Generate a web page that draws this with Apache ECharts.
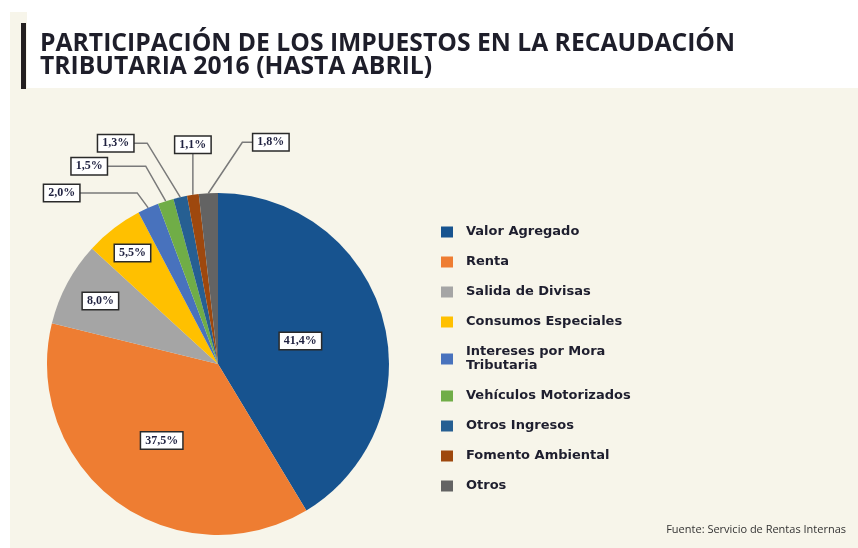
<!DOCTYPE html>
<html>
<head>
<meta charset="utf-8">
<script src="https://cdn.jsdelivr.net/npm/echarts@6/dist/echarts.min.js"></script>
<style>
  html, body { margin: 0; padding: 0; background: #fff; }
  #chart { width: 858px; height: 548px; }
</style>
</head>
<body>
<div id="chart"></div>
<script>
// datos
const categories = [
  'Valor Agregado', 'Renta', 'Salida de Divisas', 'Consumos Especiales',
  'Intereses por Mora\nTributaria', 'Vehículos Motorizados', 'Otros Ingresos',
  'Fomento Ambiental', 'Otros'
]
const values = [41.4, 37.5, 8.0, 5.5, 2.0, 1.5, 1.3, 1.1, 1.8]
const colors = ['#17538f', '#ee7d32', '#a5a5a5', '#ffc000', '#4872bd', '#70ad47', '#265f92', '#9e480e', '#636363']

// geometria del pie
const CX = 218, CY = 364, R = 171
// posicion radial de etiquetas internas (fraccion del radio)
const innerPos = { 0: 0.5, 1: 0.556, 2: 0.78, 3: 0.82 }
// etiquetas externas: [dx codo, dy codo, brazo horizontal]
const outerPos = {
  4: [-11, -15, -58],
  5: [-20, -35, -39],
  6: [-33, -54, -14],
  7: [0, -42, 0],
  8: [34, -51, 11]
}

const labelBox = {
  backgroundColor: '#fff',
  borderColor: '#2a2a2a',
  borderWidth: 1.5,
  padding: [2, 4, 2, 4],
  fontFamily: 'Liberation Serif',
  fontWeight: 'bold',
  fontSize: 12,
  color: '#1f2140',
  formatter: p => p.value.toFixed(1).replace('.', ',') + '%'
}

const chart = echarts.init(document.getElementById('chart'))

chart.setOption({
  backgroundColor: '#fff',
  animation: false,
  graphic: [
    { type: 'rect', z: 0, shape: { x: 10, y: 12, width: 848, height: 536 }, style: { fill: '#f7f5ea' } },
    { type: 'rect', z: 0, shape: { x: 27, y: 0, width: 831, height: 88 }, style: { fill: '#fff' } },
    { type: 'rect', z: 0, shape: { x: 21, y: 23, width: 5, height: 66 }, style: { fill: '#231f20' } }
  ],
  title: [{
    text: 'PARTICIPACIÓN DE LOS IMPUESTOS EN LA RECAUDACIÓN\nTRIBUTARIA 2016 (HASTA ABRIL)',
    left: 40,
    top: 32,
    padding: 0,
    textStyle: {
      fontFamily: 'Open Sans',
      fontWeight: 'bold',
      fontSize: 24.7,
      lineHeight: 23,
      color: '#1e1e2a'
    }
  }, {
    text: 'Fuente: Servicio de Rentas Internas',
    right: 12,
    top: 524,
    padding: 0,
    textStyle: {
      fontFamily: 'Open Sans',
      fontWeight: 'normal',
      fontSize: 11,
      color: '#333'
    }
  }],
  legend: {
    orient: 'vertical',
    left: 441,
    top: 225,
    padding: 0,
    itemWidth: 12,
    itemHeight: 11,
    itemGap: 16,
    icon: 'rect',
    selectedMode: false,
    textStyle: {
      fontFamily: 'DejaVu Sans',
      fontWeight: 'bold',
      fontSize: 13,
      lineHeight: 14,
      color: '#1e1e2e',
      padding: [0, 0, 0, 8]
    }
  },
  series: [{
    type: 'pie',
    center: [CX, CY],
    radius: R,
    startAngle: 90,
    clockwise: true,
    avoidLabelOverlap: false,
    color: colors,
    label: labelBox,
    labelLine: {
      show: true,
      lineStyle: { color: '#7a7a7a', width: 1.5 }
    },
    labelLayout: function (params) {
      const i = params.dataIndex
      if (innerPos[i] != null) {
        const lr = params.labelRect
        const mx = lr.x + lr.width / 2, my = lr.y + lr.height / 2
        const dx = mx - CX, dy = my - CY
        const d = Math.sqrt(dx * dx + dy * dy)
        const t = innerPos[i] * R
        return { x: CX + dx / d * t, y: CY + dy / d * t, align: 'center', verticalAlign: 'middle' }
      }
      const o = outerPos[i]
      const a = params.labelLinePoints[0]
      const bend = [a[0] + o[0], a[1] + o[1]]
      const end = [bend[0] + o[2], bend[1]]
      return {
        x: end[0],
        y: end[1],
        align: o[2] < 0 ? 'right' : (o[2] > 0 ? 'left' : 'center'),
        verticalAlign: o[2] === 0 ? 'bottom' : 'middle',
        labelLinePoints: [a, bend, end]
      }
    },
    emphasis: { disabled: true },
    data: categories.map((name, i) => ({
      name: name,
      value: values[i],
      label: { position: innerPos[i] != null ? 'inside' : 'outside' },
      labelLine: { show: innerPos[i] == null }
    }))
  }]
})
</script>
</body>
</html>
